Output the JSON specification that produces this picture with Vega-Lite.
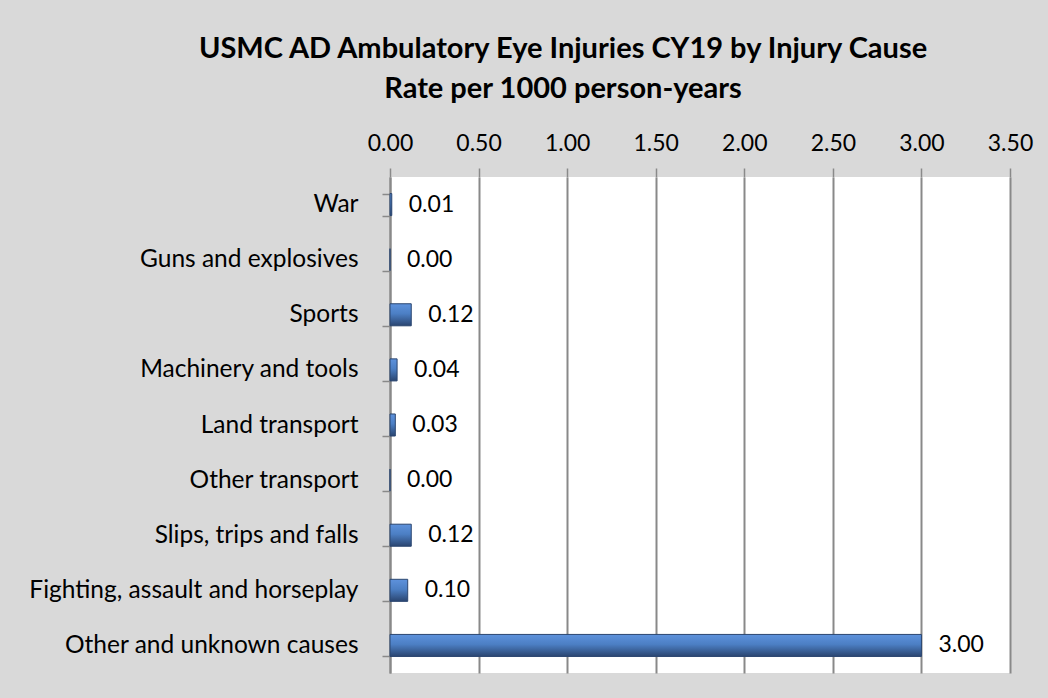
{
  "$schema": "https://vega.github.io/schema/vega-lite/v6.json",
  "width": 620,
  "height": 496,
  "autosize": "none",
  "padding": {"left": 390, "top": 177, "right": 38, "bottom": 25},
  "background": "#d9d9d9",
  "title": {
    "text": ["USMC AD Ambulatory Eye Injuries CY19 by Injury Cause", "Rate per 1000 person-years"],
    "font": "Lato",
    "fontSize": 29,
    "fontWeight": "bold",
    "color": "#000000",
    "anchor": "middle",
    "dx": -137,
    "lineHeight": 40,
    "offset": 28
  },
  "config": {
    "view": {"fill": "#ffffff", "stroke": null},
    "font": "Lato"
  },
  "data": {
    "values": [
      {"cause": "War", "rate": 0.01},
      {"cause": "Guns and explosives", "rate": 0.00},
      {"cause": "Sports", "rate": 0.12},
      {"cause": "Machinery and tools", "rate": 0.04},
      {"cause": "Land transport", "rate": 0.03},
      {"cause": "Other transport", "rate": 0.00},
      {"cause": "Slips, trips and falls", "rate": 0.12},
      {"cause": "Fighting, assault and horseplay", "rate": 0.10},
      {"cause": "Other and unknown causes", "rate": 3.00}
    ]
  },
  "encoding": {
    "y": {
      "field": "cause",
      "type": "nominal",
      "sort": null,
      "scale": {"paddingInner": 0.6, "paddingOuter": 0.3},
      "axis": {
        "title": null,
        "domainColor": "#898989",
        "domainWidth": 2,
        "tickColor": "#898989",
        "tickWidth": 1.5,
        "tickSize": 8,
        "tickBand": "extent",
        "labelFont": "Lato",
        "labelFontSize": 24.5,
        "labelLimit": 400,
        "labelColor": "#000000",
        "labelPadding": 24
      }
    },
    "x": {
      "field": "rate",
      "type": "quantitative",
      "scale": {"domain": [0, 3.5], "nice": false},
      "axis": {
        "orient": "top",
        "title": null,
        "values": [0, 0.5, 1, 1.5, 2, 2.5, 3, 3.5],
        "format": ".2f",
        "domain": false,
        "tickColor": "#898989",
        "tickWidth": 1.5,
        "tickSize": 9,
        "gridColor": "#898989",
        "gridWidth": 2,
        "labelFlush": false,
        "labelFont": "Lato",
        "labelFontSize": 23,
        "labelColor": "#000000",
        "labelPadding": 13
      }
    }
  },
  "layer": [
    {
      "mark": {
        "type": "bar",
        "stroke": "#2b4670",
        "strokeWidth": 1,
        "color": {
          "gradient": "linear",
          "x1": 0, "y1": 0, "x2": 0, "y2": 1,
          "stops": [
            {"offset": 0, "color": "#5e92dc"},
            {"offset": 0.45, "color": "#4c7fc4"},
            {"offset": 1, "color": "#2a4570"}
          ]
        }
      }
    },
    {
      "mark": {"type": "text", "align": "left", "baseline": "middle", "dx": 17, "fontSize": 23, "font": "Lato", "color": "#000000"},
      "encoding": {
        "text": {"field": "rate", "type": "quantitative", "format": ".2f"}
      }
    }
  ]
}
